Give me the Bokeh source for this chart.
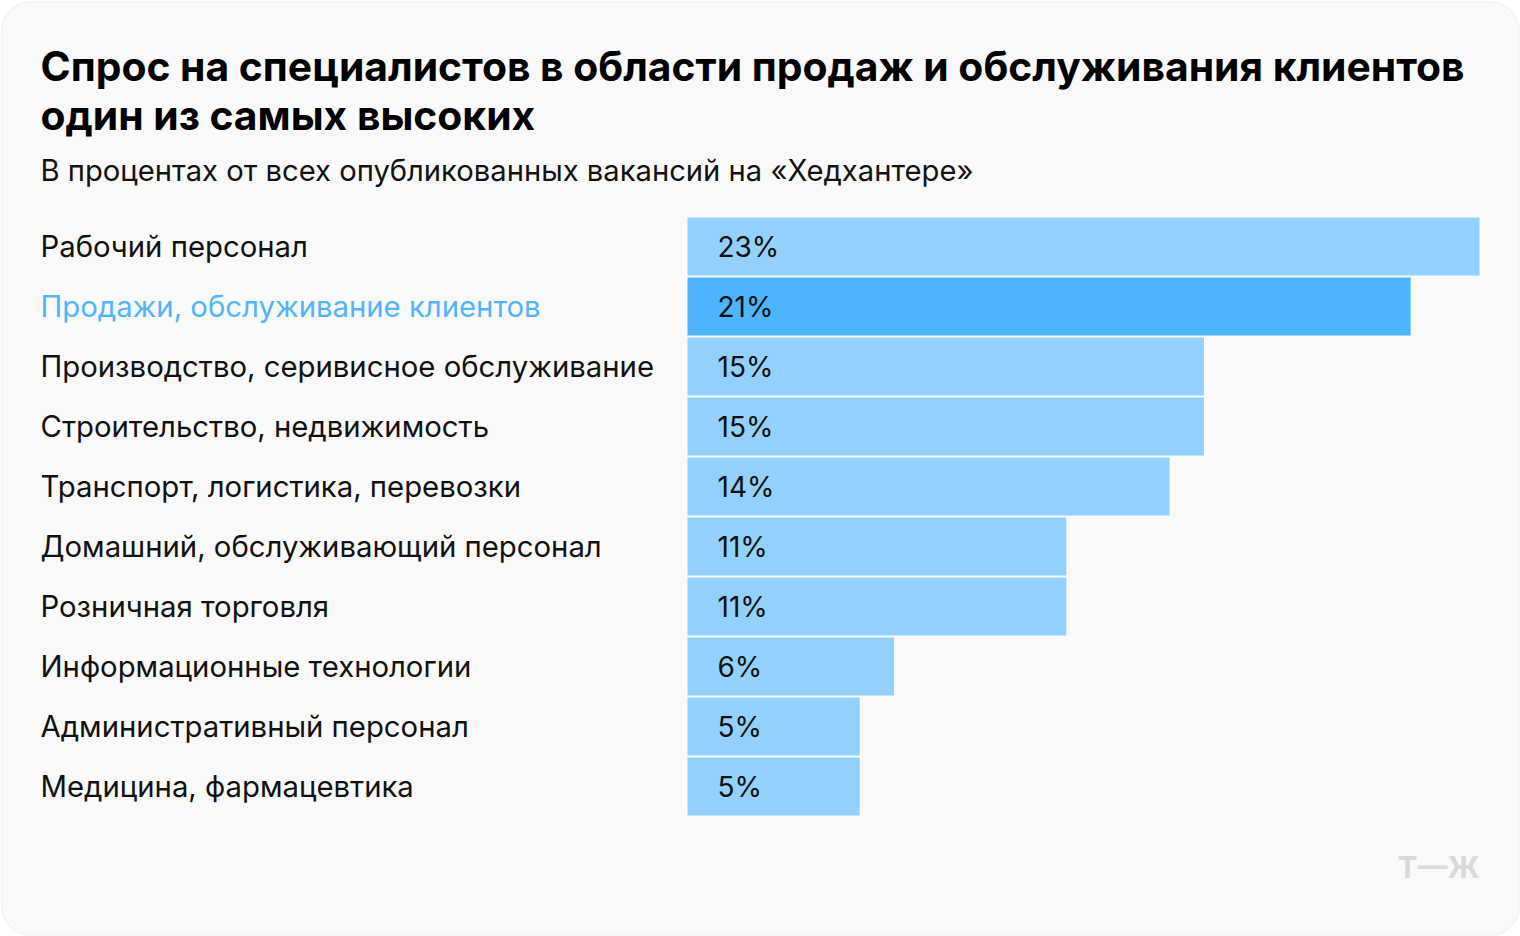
from bokeh.plotting import figure
from bokeh.models import Range1d, BoxAnnotation, ColumnDataSource
from bokeh.core.properties import value
from bokeh.embed import file_html
from bokeh.resources import INLINE

# ---- data ----
title_lines = [
    "Спрос на специалистов в области продаж и обслуживания клиентов",
    "один из самых высоких",
]
subtitle = "В процентах от всех опубликованных вакансий на «Хедхантере»"
categories = [
    "Рабочий персонал",
    "Продажи, обслуживание клиентов",
    "Производство, серивисное обслуживание",
    "Строительство, недвижимость",
    "Транспорт, логистика, перевозки",
    "Домашний, обслуживающий персонал",
    "Розничная торговля",
    "Информационные технологии",
    "Административный персонал",
    "Медицина, фармацевтика",
]
values = [23, 21, 15, 15, 14, 11, 11, 6, 5, 5]
highlight = "Продажи, обслуживание клиентов"
logo_text = "Т—Ж"

# ---- styles ----
FONT = "Inter"
BAR_COLOR = "#93D0FD"
HL_COLOR = "#4DB4FF"
HL_TEXT = "#52B5FA"
TEXT_COLOR = "#111111"
CARD_BG = "#F9F9F9"

W, H = 1520, 936
BASE_X = 687
PX_PER_PCT = (1479 - BASE_X) / 23.0
ROW_PITCH = 60
ROW0 = 246

src = ColumnDataSource(dict(
    idx=list(range(len(categories))),
    cat=categories,
    val=values,
    lab=[f"{v}%" for v in values],
    color=[HL_COLOR if c == highlight else BAR_COLOR for c in categories],
    tcolor=[HL_TEXT if c == highlight else TEXT_COLOR for c in categories],
))

p = figure(width=W, height=H, output_backend="svg", toolbar_location=None,
           x_range=Range1d(0, W), y_range=Range1d(H, 0),
           x_axis_type=None, y_axis_type=None, min_border=0)
p.outline_line_color = None
p.background_fill_color = "white"
p.border_fill_color = "white"

p.extra_x_ranges = {"pct": Range1d(-BASE_X / PX_PER_PCT, (W - BASE_X) / PX_PER_PCT)}
p.extra_y_ranges = {"row": Range1d((H - ROW0) / ROW_PITCH, -ROW0 / ROW_PITCH)}

card = BoxAnnotation(left=1, right=1519, top=1, bottom=935,
                     fill_color=CARD_BG, fill_alpha=1, line_color="#E6E6E6",
                     line_width=2, border_radius=30, level="underlay")
p.add_layout(card)

# bars
p.hbar(y="idx", left=0, right="val", height=58 / 60, source=src,
       x_range_name="pct", y_range_name="row", fill_color="color", line_color=None)

# value labels
p.text(x=0, y="idx", text="lab", source=src, x_range_name="pct", y_range_name="row",
       x_offset=30, text_baseline="middle", text_align="left",
       text_font=value(FONT), text_font_size=value("28px"), text_color=TEXT_COLOR)

# category labels
p.text(x=40, y="idx", text="cat", source=src, y_range_name="row",
       text_baseline="middle", text_align="left",
       text_font=value(FONT), text_font_size=value("29.3px"), text_color="tcolor")

# title
p.text(x=[40, 40], y=[65, 114], text=title_lines, text_baseline="middle",
       text_align="left", text_font=value(FONT), text_font_style="bold",
       text_font_size=value("40.8px"), text_color="#000000")

# subtitle
p.text(x=[40], y=[170], text=[subtitle], text_baseline="middle",
       text_align="left", text_font=value(FONT), text_font_size=value("29.2px"),
       text_color=TEXT_COLOR)

# logo
p.text(x=[1479], y=[866], text=[logo_text], text_baseline="middle",
       text_align="right", text_font=value(FONT), text_font_style="bold",
       text_font_size=value("30px"), text_color="#D9D9D9")

open("out.html", "w").write(file_html(p, INLINE))
